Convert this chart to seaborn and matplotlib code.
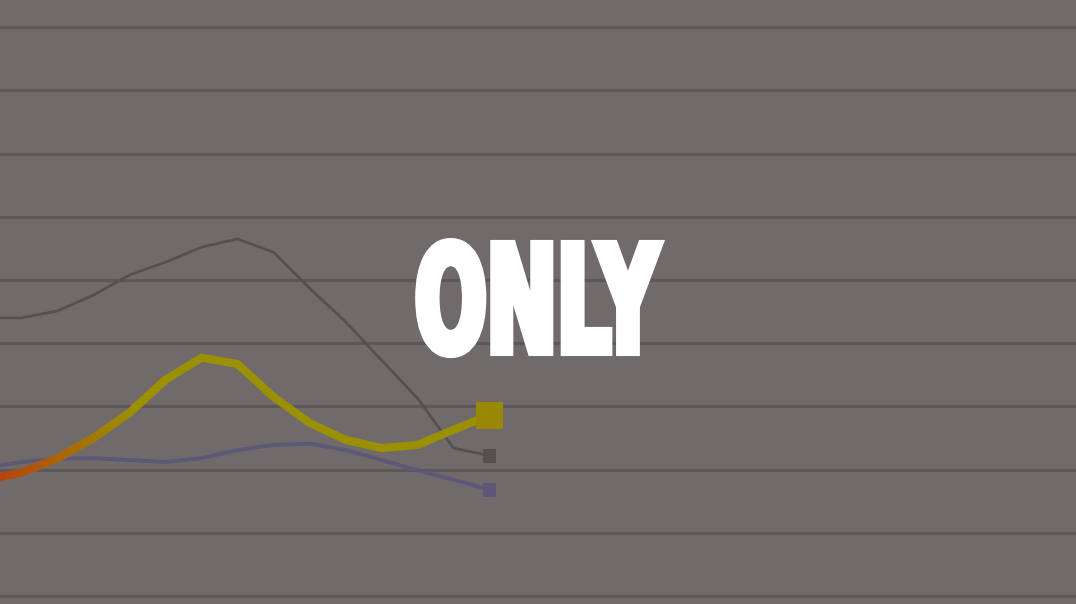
import numpy as np
import pandas as pd
import matplotlib
matplotlib.use("Agg")
import matplotlib.pyplot as plt
import seaborn as sns
from matplotlib.collections import LineCollection
from matplotlib.patheffects import AbstractPathEffect
from matplotlib.transforms import Affine2D
from matplotlib.colors import to_rgb

# ---- data ----
periods = list(range(-1, 14))
gray_values = [44.0, 44.0, 45.1, 47.6, 50.8, 52.8, 55.2, 56.5, 54.4, 48.7, 43.4, 37.3, 31.3, 23.4, 22.2]
yellow_values = [18.4, 19.5, 21.8, 25.0, 29.0, 34.2, 37.7, 36.7, 31.5, 27.4, 24.7, 23.4, 23.9, 26.3, 28.6]
blue_values = [20.3, 21.2, 21.7, 21.8, 21.5, 21.2, 21.8, 23.1, 23.9, 24.1, 23.1, 21.5, 19.9, 18.4, 16.8]
grid_levels = list(range(0, 100, 10))
overlay_text = "ONLY"

BG = "#706b6a"
GRID = "#5c5858"
GRAY = "#55504f"
BLUE = "#5d5878"
YELLOW = "#9a9002"
YELLOW_MK = "#9a8804"
ORANGE = "#b4440f"

sns.set_theme(style="white")
plt.rcParams["font.family"] = ["DejaVu Sans"]

fig = plt.figure(figsize=(10.76, 6.04), dpi=100, facecolor=BG)
ax = fig.add_axes([0, 0, 1, 1])
ax.set_facecolor(BG)

df = pd.DataFrame({"period": periods, "gray": gray_values,
                   "yellow": yellow_values, "blue": blue_values})

# horizontal rules
for g in grid_levels:
    ax.axhline(g, color=GRID, lw=2.3, zorder=1)

sns.lineplot(data=df, x="period", y="gray", color=GRAY, lw=1.9, ax=ax, zorder=3)
sns.lineplot(data=df, x="period", y="blue", color=BLUE, lw=2.8, ax=ax, zorder=3)
sns.lineplot(data=df, x="period", y="yellow", color=YELLOW, lw=5.8, ax=ax, zorder=4,
             solid_capstyle="round", solid_joinstyle="round")

# orange-to-yellow fade on the early part of the yellow line (styling only)
xs = np.array(periods, float)
ys = np.array(yellow_values, float)
segs, cols = [], []
c0, c1 = np.array(to_rgb(ORANGE)), np.array(to_rgb(YELLOW))
for k in range(len(xs) - 1):
    if xs[k] >= 3.5:
        break
    for t in np.linspace(0, 1, 12, endpoint=False):
        xa = xs[k] + (xs[k + 1] - xs[k]) * t
        xb = xs[k] + (xs[k + 1] - xs[k]) * (t + 1 / 12)
        ya = ys[k] + (ys[k + 1] - ys[k]) * t
        yb = ys[k] + (ys[k + 1] - ys[k]) * (t + 1 / 12)
        segs.append([(xa, ya), (xb, yb)])
        f = np.clip((xa + 0.5) / 3.7, 0, 1)
        cols.append(tuple(c0 * (1 - f) + c1 * f))
lc = LineCollection(segs, colors=cols, linewidths=5.8, capstyle="round", zorder=5)
ax.add_collection(lc)

# end markers
last = df.iloc[[-1]]
sns.scatterplot(data=last, x="period", y="gray", marker="s", s=100, color=GRAY,
                edgecolor="none", ax=ax, zorder=6)
sns.scatterplot(data=last, x="period", y="blue", marker="s", s=100, color=BLUE,
                edgecolor="none", ax=ax, zorder=6)
sns.scatterplot(data=last, x="period", y="yellow", marker="s", s=380, color=YELLOW_MK,
                edgecolor="none", ax=ax, zorder=6)

ax.set_xlim(-0.597, 29.29)
ax.set_ylim(-1.27, 94.3)
ax.set_axis_off()


class SqueezeX(AbstractPathEffect):
    """Condense text horizontally and thicken strokes."""
    def __init__(self, sx, lw, color):
        super().__init__()
        self.sx, self.lw, self.color = sx, lw, color

    def draw_path(self, renderer, gc, tpath, affine, rgbFace=None):
        aff = Affine2D().scale(self.sx, 1) + affine
        gc0 = renderer.new_gc()
        gc0.copy_properties(gc)
        gc0.set_linewidth(self.lw)
        gc0.set_foreground(self.color)
        gc0.set_joinstyle("miter")
        renderer.draw_path(gc0, tpath, aff, rgbFace)
        gc0.restore()


fig.text(415 / 1076, 1 - 352 / 604, overlay_text, ha="left", va="baseline",
         fontsize=106.7, fontweight="bold", color="white",
         path_effects=[SqueezeX(0.568, 5.8, "white")], zorder=10)

fig.savefig("out.png", dpi=100, facecolor=BG)
